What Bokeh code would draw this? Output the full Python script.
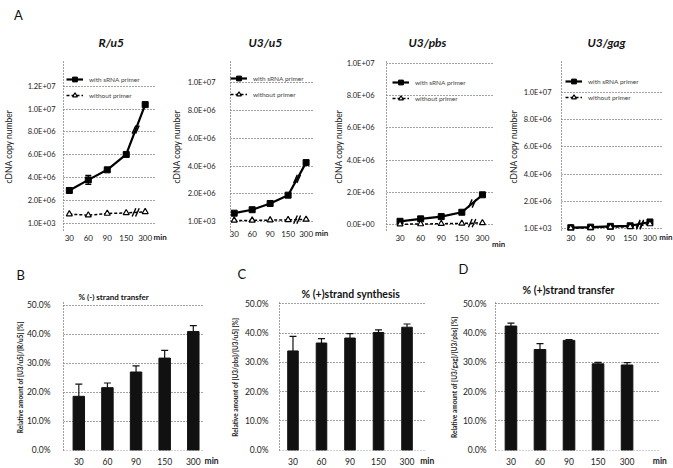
from bokeh.plotting import figure
from bokeh.layouts import row, column
from bokeh.models import (ColumnDataSource, FixedTicker, Legend, LegendItem, LinearAxis,
                          Whisker, TeeHead, Title)
from bokeh.embed import file_html
from bokeh.resources import INLINE

FONT = "Lato"

# ---------------- data ----------------
times = ["30", "60", "90", "150", "300"]
unit_label = "min"

ru5_with = [2.87e6, 3.8e6, 4.68e6, 6.03e6, 10.4e6]
ru5_with_err = [0.15e6, 0.4e6, 0.15e6, 0.15e6, 0.1e6]
ru5_without = [0.8e6, 0.7e6, 0.85e6, 0.9e6, 1.0e6]
u3u5_with = [0.6e6, 0.85e6, 1.3e6, 1.9e6, 4.25e6]
u3u5_without = [0.08e6, 0.08e6, 0.1e6, 0.12e6, 0.15e6]
u3pbs_with = [0.22e6, 0.37e6, 0.51e6, 0.78e6, 1.86e6]
u3pbs_without = [0.04e6, 0.05e6, 0.07e6, 0.09e6, 0.12e6]
u3gag_with = [0.08e6, 0.12e6, 0.18e6, 0.22e6, 0.5e6]
u3gag_without = [0.05e6, 0.08e6, 0.12e6, 0.15e6, 0.35e6]

ru5_ticks = [1e3, 2e6, 4e6, 6e6, 8e6, 1e7, 1.2e7]
u3u5_ticks = [1e3, 2e6, 4e6, 6e6, 8e6, 1e7]
u3pbs_ticks = [0, 2e6, 4e6, 6e6, 8e6, 1e7]
u3gag_ticks = [1e3, 2e6, 4e6, 6e6, 8e6, 1e7]

neg_transfer = [18.6, 21.6, 27.0, 31.8, 41.0]
neg_transfer_err = [4.2, 1.6, 2.1, 2.7, 2.0]
plus_synthesis = [33.9, 36.6, 38.3, 40.2, 42.0]
plus_synthesis_err = [5.0, 1.5, 1.5, 0.9, 1.1]
plus_transfer = [42.4, 34.4, 37.5, 29.5, 29.1]
plus_transfer_err = [1.0, 2.0, 0.3, 0.5, 0.8]
pct_ticks = [0, 10, 20, 30, 40, 50]

xs = list(range(len(times)))


def style_axis(ax):
    ax.axis_line_dash = "1 2"
    ax.axis_line_color = "#444444"
    ax.major_tick_line_color = None
    ax.minor_tick_line_color = None
    ax.major_tick_out = 0
    ax.major_tick_in = 0
    ax.major_label_text_font = FONT
    ax.major_label_text_color = "#222222"
    ax.axis_label_text_font = FONT
    ax.axis_label_text_color = "#222222"


def base_fig(w, h, borders, xr, yr, grid_end, xfont, xtick_standoff):
    left, right, top, bottom = borders
    p = figure(width=w, height=h, min_border_left=left, min_border_right=right,
               min_border_top=top, min_border_bottom=bottom, x_range=xr, y_range=yr,
               output_backend="svg", toolbar_location=None)
    p.outline_line_color = None
    p.xgrid.visible = False
    g = p.ygrid[0]
    g.grid_line_dash = "1 2"
    g.grid_line_color = "#444444"
    g.grid_line_width = 1
    try:
        g.cross_bounds = (xr[0], grid_end)
    except Exception:
        pass
    xa = p.xaxis[0]
    ya = p.yaxis[0]
    style_axis(xa)
    style_axis(ya)
    xa.axis_line_color = None
    xa.ticker = FixedTicker(ticks=xs)
    xa.major_label_overrides = {i: t for i, t in enumerate(times)}
    xa.major_label_text_font_size = xfont
    xa.major_label_standoff = xtick_standoff
    return p, xa, ya


def add_unit_axis(p, min_pos, xfont, standoff):
    ax = LinearAxis(ticker=FixedTicker(ticks=[min_pos]),
                    major_label_overrides={min_pos: unit_label})
    style_axis(ax)
    ax.axis_line_color = None
    ax.major_label_text_font_size = xfont
    ax.major_label_text_font_style = "bold"
    ax.major_label_standoff = standoff
    p.add_layout(ax, "below")


def add_title(p, text, size, style, offset, standoff):
    p.add_layout(Title(text=text, align="left", offset=offset, standoff=standoff,
                       vertical_align="middle", text_font=FONT, text_font_size=size,
                       text_font_style=style, text_color="#111111"), "above")


def line_panel(w, borders, xr, yr, grid_end, min_pos, yticks, with_vals, without_vals,
               ytick_standoff, ylab_standoff, xtick_standoff, unit_standoff, legend_loc,
               with_err=None):
    p, xa, ya = base_fig(w, 258, borders, xr, yr, grid_end, "8px", xtick_standoff)
    ya.ticker = FixedTicker(ticks=yticks)
    ya.major_label_overrides = {t: "%.1E" % t for t in yticks}
    ya.major_label_text_font_size = "7.5px"
    ya.major_label_standoff = ytick_standoff
    ya.axis_label = "cDNA  copy number"
    ya.axis_label_text_font_size = "8.5px"
    ya.axis_label_text_font_style = "normal"
    ya.axis_label_standoff = ylab_standoff

    lw = p.line(xs, with_vals, line_color="black", line_width=2.2)
    sw = p.scatter(xs, with_vals, marker="square", size=6, color="black")
    if with_err is not None:
        src = ColumnDataSource(dict(x=xs, lo=[v - e for v, e in zip(with_vals, with_err)],
                                    hi=[v + e for v, e in zip(with_vals, with_err)]))
        p.add_layout(Whisker(base="x", lower="lo", upper="hi", source=src,
                             line_color="black", line_width=1.2,
                             upper_head=TeeHead(size=6, line_color="black", line_width=1.2),
                             lower_head=TeeHead(size=6, line_color="black", line_width=1.2)))
    lo = p.line(xs, without_vals, line_color="black", line_width=1.5, line_dash="3 2")
    so = p.scatter(xs, without_vals, marker="triangle", size=6, fill_color="white",
                   line_color="black", line_width=1.2)
    # axis-break marks between the last two time points
    for vals in (with_vals, without_vals):
        xm = (xs[3] + xs[4]) / 2
        ym = (vals[3] + vals[4]) / 2
        p.scatter([xm - 0.09, xm + 0.09], [ym, ym], marker="dash", size=9,
                  angle=1.15, line_color="black", line_width=1.4)
    leg = Legend(items=[LegendItem(label="with sRNA primer", renderers=[lw, sw]),
                        LegendItem(label="without primer", renderers=[lo, so])],
                 location=legend_loc, glyph_width=17, glyph_height=12, label_height=12,
                 spacing=4, padding=0, margin=0, label_standoff=6,
                 label_text_font_size="6.5px", label_text_font=FONT,
                 background_fill_alpha=0, border_line_color=None)
    p.add_layout(leg)
    add_unit_axis(p, min_pos, "8px", unit_standoff)
    return p


def bar_panel(w, borders, xr, yr, grid_end, min_pos, vals, errs, bar_w,
              ytick_standoff, ylab_standoff, ylab):
    p, xa, ya = base_fig(w, 210, borders, xr, yr, grid_end, "8.5px", 7)
    ya.ticker = FixedTicker(ticks=pct_ticks)
    ya.major_label_overrides = {t: "%.1f%%" % t for t in pct_ticks}
    ya.major_label_text_font_size = "8.5px"
    ya.major_label_standoff = ytick_standoff
    ya.axis_label = ylab
    ya.axis_label_text_font_size = "6.5px"
    ya.axis_label_text_font_style = "bold"
    ya.axis_label_standoff = ylab_standoff
    p.vbar(x=xs, top=vals, width=bar_w, fill_color="#111111", line_color="#111111")
    src = ColumnDataSource(dict(x=xs, lo=vals, hi=[v + e for v, e in zip(vals, errs)]))
    p.add_layout(Whisker(base="x", lower="lo", upper="hi", source=src,
                         line_color="#111111", line_width=1.2, lower_head=None,
                         upper_head=TeeHead(size=7, line_color="#111111", line_width=1.2)))
    add_unit_axis(p, min_pos, "8.5px", -12)
    return p


# ---------------- top row (all frames 60..230) ----------------
f1 = line_panel(168, (60, 0, 60, 28), (-0.308, 5.23), (-0.64e6, 14.27e6), 4.56, 4.97,
                ru5_ticks, ru5_with, ru5_without, 8, 11, 4, -12, (3, 129),
                with_err=ru5_with_err)
add_title(f1, "R/u5", "12px", "bold italic", 35, 20)
add_title(f1, "A", "13px", "normal", -49.5, 0)

f2 = line_panel(162, (54, 5, 60, 28), (-0.205, 5.08), (-0.65e6, 11.62e6), 4.46, 4.87,
                u3u5_ticks, u3u5_with, u3u5_without, 15, 3, 0, -12, (0, 130))
add_title(f2, "U3/u5", "12px", "bold italic", 18, 20)

f3 = line_panel(175, (52, 0, 60, 28), (-0.657, 5.12), (-0.35e6, 10.17e6), 4.51, 4.79,
                u3pbs_ticks, u3pbs_with, u3pbs_without, 12, 0, 4, -5, (6, 126))
add_title(f3, "U3/pbs", "12px", "bold italic", 22, 20)

f4 = line_panel(168, (48, 0, 60, 28), (-0.47, 5.19), (-0.125e6, 12.33e6), 4.67, 4.81,
                u3gag_ticks, u3gag_with, u3gag_without, 10, 2, 4, -12, (4, 127))
add_title(f4, "U3/gag", "12px", "bold italic", 26, 20)

# ---------------- bottom row (all frames 302..450) ----------------
b = bar_panel(228, (63, 0, 44, 18), (-0.535, 5.23), (-0.1, 51.0), 4.40, 4.64,
              neg_transfer, neg_transfer_err, 0.4, 13, 0,
              "Relative amount  of [U3/u5]/[R/u5] [%]")
add_title(b, "% (-) strand transfer", "8px", "bold", 15, 0)
add_title(b, "B", "13px", "normal", -47, 13)

c = bar_panel(219, (45, 0, 44, 18), (-0.473, 5.42), (-0.1, 50.44), 4.67, 4.71,
              plus_synthesis, plus_synthesis_err, 0.37, 11, 3,
              "Relative amount  of [U3/pbs]/[U3/u5] [%]")
add_title(c, "% (+)strand synthesis", "10.5px", "bold", 22, 4)
add_title(c, "C", "13px", "normal", -42, 3)

d = bar_panel(226, (42, 0, 44, 18), (-0.533, 5.6), (-0.1, 50.44), 5.07, 5.13,
              plus_transfer, plus_transfer_err, 0.4, 9, 2,
              "Relative amount  of [U3/gag]/[U3/pbs] [%]")
add_title(d, "% (+)strand transfer", "10.5px", "bold", 27, 11)
add_title(d, "D", "13px", "normal", -37, 0)

layout = column(row(f1, f2, f3, f4), row(b, c, d))
open("out.html", "w").write(file_html(layout, INLINE))
